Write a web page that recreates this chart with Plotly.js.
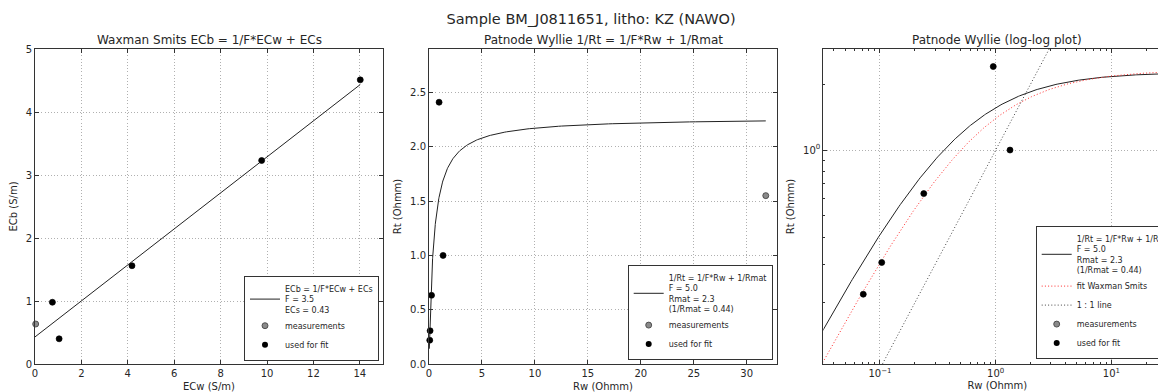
<!DOCTYPE html>
<html>
<head>
<meta charset="utf-8">
<script src="https://cdn.plot.ly/plotly-3.0.1.min.js"></script>
<style>
html, body { margin: 0; padding: 0; overflow: hidden; background: #fff; width: 1158px; height: 392px; }
#chart { width: 1182px; height: 392px; }
</style>
</head>
<body>
<div id="chart"></div>
<script>
// ---------- data ----------
// Waxman Smits panel (conductivities)
const ECw = [14.02, 9.77, 4.18, 1.04, 0.75, 0.03];
const ECb = [4.51, 3.23, 1.56, 0.40, 0.98, 0.635];
// Patnode Wyllie panels (resistivities)
const Rw = [0.0717, 0.1035, 0.239, 0.953, 1.33, 31.8];
const Rt = [0.219, 0.306, 0.632, 2.41, 1.00, 1.55];
const usedForFit = [1, 1, 1, 1, 1, 0];

// fit parameters shown in the legends
const F_WS = 3.5;
const ECS_WS = 0.43;
const F_PW = 5.0;
const RMAT_PW = 2.27;

// range of the fitted curves
const curveRwMin = 0.03;
const curveRwMax = 31.8;

// tick labels
const logXTickVals = [0.1, 1, 10];
const logXTickText = ['10<sup>\u22121</sup>', '10<sup>0</sup>', '10<sup>1</sup>'];
const logYTickVals = [1];
const logYTickText = ['10<sup>0</sup>'];
const logXMinor = [0.04, 0.05, 0.06, 0.07, 0.08, 0.09, 0.2, 0.3, 0.4, 0.5, 0.6, 0.7, 0.8, 0.9, 2, 3, 4, 5, 6, 7, 8, 9, 20, 30];
const logYMinor = [0.2, 0.3, 0.4, 0.5, 0.6, 0.7, 0.8, 0.9, 2];

// ---------- derived series ----------
const pick = (arr) => arr.filter((_, i) => usedForFit[i]);
const wsLineX = [0, Math.max(...ECw)];
const wsLineY = wsLineX.map(x => x / F_WS + ECS_WS);

const N = 300;
const curveRw = [];
for (let i = 0; i < N; i++) {
  const t = i / (N - 1);
  curveRw.push(Math.pow(10, Math.log10(curveRwMin) + t * (Math.log10(curveRwMax) - Math.log10(curveRwMin))));
}
const pwCurve = curveRw.map(r => 1 / (1 / (F_PW * r) + 1 / RMAT_PW));
const wsCurve = curveRw.map(r => 1 / (1 / (F_WS * r) + ECS_WS));
const oneToOne = [0.01, 100];

const pwName = '1/Rt = 1/F*Rw + 1/Rmat<br>F = ' + F_PW.toFixed(1) + '<br>Rmat = ' + RMAT_PW.toFixed(1) +
  '<br>(1/Rmat = ' + (1 / RMAT_PW).toFixed(2) + ')';
const wsName = 'ECb = 1/F*ECw + ECs<br>F = ' + F_WS.toFixed(1) + '<br>ECs = ' + ECS_WS.toFixed(2);

// ---------- styles ----------
const W = 1182, H = 392;
const FONT = 'DejaVu Sans, Liberation Sans, sans-serif';
const TXT = '#262626';
const FRAME = '#333';
const DOTS = '1px,2.2px';
const grayMarker = { size: 6, color: '#8a8a8a', line: { color: '#3a3a3a', width: 0.8 } };
const blackMarker = { size: 6, color: '#000', line: { color: '#000', width: 0 } };

const traces = [
  // panel 1
  { x: wsLineX, y: wsLineY, xaxis: 'x', yaxis: 'y', mode: 'lines', name: wsName,
    line: { color: '#222', width: 1 }, legend: 'legend' },
  { x: ECw, y: ECb, xaxis: 'x', yaxis: 'y', mode: 'markers', name: 'measurements',
    marker: grayMarker, cliponaxis: false, legend: 'legend' },
  { x: pick(ECw), y: pick(ECb), xaxis: 'x', yaxis: 'y', mode: 'markers', name: 'used for fit',
    marker: blackMarker, cliponaxis: false, legend: 'legend' },
  // panel 2
  { x: curveRw, y: pwCurve, xaxis: 'x2', yaxis: 'y2', mode: 'lines', name: pwName,
    line: { color: '#222', width: 1 }, legend: 'legend2' },
  { x: Rw, y: Rt, xaxis: 'x2', yaxis: 'y2', mode: 'markers', name: 'measurements',
    marker: grayMarker, cliponaxis: false, legend: 'legend2' },
  { x: pick(Rw), y: pick(Rt), xaxis: 'x2', yaxis: 'y2', mode: 'markers', name: 'used for fit',
    marker: blackMarker, cliponaxis: false, legend: 'legend2' },
  // panel 3
  { x: curveRw, y: pwCurve, xaxis: 'x3', yaxis: 'y3', mode: 'lines', name: pwName,
    line: { color: '#222', width: 1 }, legend: 'legend3' },
  { x: curveRw, y: wsCurve, xaxis: 'x3', yaxis: 'y3', mode: 'lines', name: 'fit Waxman Smits',
    line: { color: '#ff2a2a', width: 1, dash: DOTS }, legend: 'legend3' },
  { x: oneToOne, y: oneToOne, xaxis: 'x3', yaxis: 'y3', mode: 'lines', name: '1 : 1 line',
    line: { color: '#444', width: 1, dash: DOTS }, legend: 'legend3' },
  { x: Rw, y: Rt, xaxis: 'x3', yaxis: 'y3', mode: 'markers', name: 'measurements',
    marker: grayMarker, cliponaxis: false, legend: 'legend3' },
  { x: pick(Rw), y: pick(Rt), xaxis: 'x3', yaxis: 'y3', mode: 'markers', name: 'used for fit',
    marker: blackMarker, cliponaxis: false, legend: 'legend3' }
];

function axis(extra) {
  return Object.assign({
    showline: true, linecolor: FRAME, linewidth: 1, mirror: 'ticks',
    ticks: 'inside', ticklen: 4, tickwidth: 1, tickcolor: FRAME,
    showgrid: true, gridcolor: '#b0b0b0', griddash: DOTS, gridwidth: 1,
    zeroline: false, tickfont: { size: 10, color: TXT, family: FONT },
    fixedrange: true
  }, extra);
}
function atitle(text, standoff) {
  return { text: text, font: { size: 10, color: TXT, family: FONT }, standoff: standoff };
}

const yDom = [28 / H, 343 / H];
const p1 = [35 / W, 383 / W];
const p2 = [429 / W, 777 / W];
const p3 = [823.3 / W, 1171.3 / W];

const legendStyle = {
  bgcolor: '#fff', bordercolor: FRAME, borderwidth: 1,
  font: { size: 8, color: TXT, family: FONT }, tracegroupgap: 0, itemwidth: 30,
  yanchor: 'bottom', xref: 'paper', yref: 'paper'
};

const minorStyle = { tickmode: 'array', ticks: 'inside', ticklen: 2, tickcolor: FRAME, tickwidth: 1, showgrid: false };

const layout = {
  width: W, height: H,
  margin: { l: 0, r: 0, t: 0, b: 0 },
  paper_bgcolor: '#fff', plot_bgcolor: '#fff',
  font: { family: FONT, color: TXT },
  showlegend: true,
  title: { text: 'Sample BM_J0811651, litho: KZ (NAWO)', font: { size: 14.5, color: TXT, family: FONT },
           x: 0.5, xanchor: 'center', y: 1 - 19 / H, yanchor: 'middle' },
  xaxis: axis({ domain: p1, anchor: 'y', range: [0, 15], tick0: 0, dtick: 2, title: atitle('ECw (S/m)', 5) }),
  yaxis: axis({ domain: yDom, anchor: 'x', range: [0, 5], tick0: 0, dtick: 1, title: atitle('ECb (S/m)', 6) }),
  xaxis2: axis({ domain: p2, anchor: 'y2', range: [0, 32.86], tick0: 0, dtick: 5, title: atitle('Rw (Ohmm)', 5) }),
  yaxis2: axis({ domain: yDom, anchor: 'x2', range: [0, 2.9], tick0: 0, dtick: 0.5, tickformat: '.1f', title: atitle('Rt (Ohmm)', 6) }),
  xaxis3: axis({ domain: p3, anchor: 'y3', type: 'log', range: [-1.49, 1.518],
                 tickmode: 'array', tickvals: logXTickVals, ticktext: logXTickText,
                 minor: Object.assign({ tickvals: logXMinor }, minorStyle),
                 title: atitle('Rw (Ohmm)', 3) }),
  yaxis3: axis({ domain: yDom, anchor: 'x3', type: 'log', range: [Math.log10(0.105), Math.log10(2.9)],
                 tickmode: 'array', tickvals: logYTickVals, ticktext: logYTickText,
                 minor: Object.assign({ tickvals: logYMinor }, minorStyle),
                 title: atitle('Rt (Ohmm)', 6) }),
  legend: Object.assign({}, legendStyle, { x: 379 / W, xanchor: 'right', y: 31 / H }),
  legend2: Object.assign({}, legendStyle, { x: 772.7 / W, xanchor: 'right', y: 32 / H }),
  legend3: Object.assign({}, legendStyle, { x: 1035.7 / W, xanchor: 'left', y: 33 / H }),
  annotations: [
    { text: 'Waxman Smits ECb = 1/F*ECw + ECs', xref: 'paper', yref: 'paper', x: (p1[0] + p1[1]) / 2, y: 1 - 40 / H,
      xanchor: 'center', yanchor: 'middle', showarrow: false, font: { size: 12, color: TXT, family: FONT } },
    { text: 'Patnode Wyllie 1/Rt = 1/F*Rw + 1/Rmat', xref: 'paper', yref: 'paper', x: (p2[0] + p2[1]) / 2, y: 1 - 40 / H,
      xanchor: 'center', yanchor: 'middle', showarrow: false, font: { size: 12, color: TXT, family: FONT } },
    { text: 'Patnode Wyllie (log-log plot)', xref: 'paper', yref: 'paper', x: (p3[0] + p3[1]) / 2, y: 1 - 40 / H,
      xanchor: 'center', yanchor: 'middle', showarrow: false, font: { size: 12, color: TXT, family: FONT } }
  ]
};

Plotly.newPlot('chart', traces, layout, { displayModeBar: false, staticPlot: true, responsive: false });
</script>
</body>
</html>
